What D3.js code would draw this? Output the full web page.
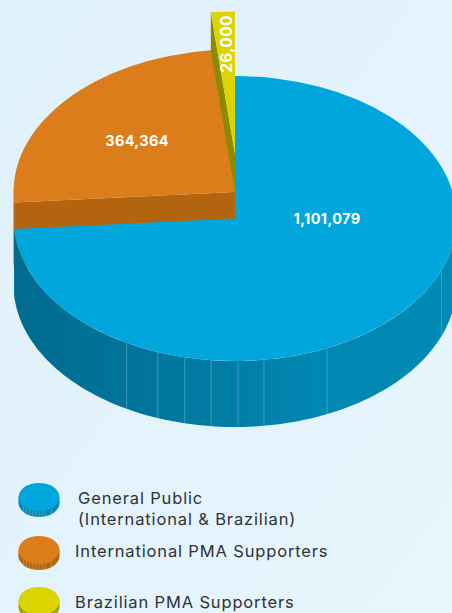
<!DOCTYPE html>
<html>
<head>
<meta charset="utf-8">
<script src="https://cdn.jsdelivr.net/npm/d3@7"></script>
<style>
html,body{margin:0;padding:0;background:#e4f3fb;overflow:hidden}
text{font-family:Inter,"Noto Sans",sans-serif}
</style>
</head>
<body>
<script>
// Audience breakdown: exploded 3D pie with a legend of small discs.
const categories = ["General Public", "International PMA Supporters", "Brazilian PMA Supporters"];
const values = [1101079, 364364, 26000];
const valueLabels = ["1,101,079", "364,364", "26,000"];
const legendLines = [["General Public", "(International & Brazilian)"], ["International PMA Supporters"], ["Brazilian PMA Supporters"]];
const topColors = ["#00a6dc", "#dc7d1b", "#dbd400"];
const sideColors = ["#007ca6", "#b2640f", "#8c8a00"];
const legendSideColors = ["#0a88b4", "#b2640f", "#a8a300"];
const seamDegrees = [111.2, 155.4, 172.5, 179.2, 186.2, 193.1, 200.4, 209.3];

const W = 452, H = 613;
const cx = 235, rx = 221.5, ry = 142.5, depth = 66;
const centerY = [218.5, 192, 154];

const svg = d3.select("body").append("svg").attr("width", W).attr("height", H).style("display", "block");
const defs = svg.append("defs");

const bg = defs.append("linearGradient").attr("id", "bg").attr("x1", 0).attr("y1", 0).attr("x2", 1).attr("y2", 1);
bg.append("stop").attr("offset", 0).attr("stop-color", "#dff1fa");
bg.append("stop").attr("offset", 1).attr("stop-color", "#e8f5fd");
svg.append("rect").attr("width", W).attr("height", H).attr("fill", "url(#bg)");

const wall = defs.append("linearGradient").attr("id", "wall").attr("gradientUnits", "userSpaceOnUse")
  .attr("x1", 15).attr("x2", 452).attr("y1", 0).attr("y2", 0);
[[0, "#006b8f"], [0.35, "#00779f"], [0.7, "#0087b2"], [1, "#008ab5"]].forEach(s =>
  wall.append("stop").attr("offset", s[0]).attr("stop-color", s[1]));

const pie = d3.pie().sort(null)(values);
const arc = d3.arc().innerRadius(0).outerRadius(rx);
const line = d3.line();
const deg = Math.PI / 180;

// Screen position of a rim point at a pie angle, for a disc centred at cy.
const rim = (a, cy) => [cx + rx * Math.sin(a), cy - ry * Math.cos(a)];

function rimBand(a0, a1, cy, h) {
  const n = 120;
  const angles = d3.range(n + 1).map(i => a0 + (a1 - a0) * i / n);
  const upper = angles.map(a => rim(a, cy));
  const lower = angles.slice().reverse().map(a => { const p = rim(a, cy); return [p[0], p[1] + h]; });
  return line(upper.concat(lower)) + "Z";
}

function radialSide(a, cy, h) {
  const p = rim(a, cy);
  return line([[cx, cy], p, [p[0], p[1] + h], [cx, cy + h]]) + "Z";
}

function topFace(d, i) {
  svg.append("path")
    .attr("d", arc(d))
    .attr("transform", `translate(${cx},${centerY[i]}) scale(1,${ry / rx})`)
    .attr("fill", topColors[i]);
}

// Back to front: yellow sliver, orange wedge, then the large blue slice.
svg.append("path").attr("d", radialSide(pie[2].startAngle, centerY[2], depth)).attr("fill", sideColors[2]);
topFace(pie[2], 2);

svg.append("path").attr("d", radialSide(pie[1].startAngle, centerY[1], depth)).attr("fill", sideColors[1]);
svg.append("path").attr("d", rimBand(pie[1].startAngle, pie[1].startAngle + 4 * deg, centerY[1], depth)).attr("fill", sideColors[1]);
topFace(pie[1], 1);

svg.append("path").attr("d", rimBand(90 * deg, pie[0].endAngle, centerY[0], depth)).attr("fill", "url(#wall)");
svg.selectAll("line.seam").data(seamDegrees).join("line").attr("class", "seam")
  .attr("x1", d => rim(d * deg, centerY[0])[0])
  .attr("x2", d => rim(d * deg, centerY[0])[0])
  .attr("y1", d => rim(d * deg, centerY[0])[1])
  .attr("y2", d => rim(d * deg, centerY[0])[1] + depth)
  .attr("stroke", "#4aa3c2").attr("stroke-width", 0.8);
topFace(pie[0], 0);

// Value labels
const valueText = (s, x, y, size, rot) => svg.append("text")
  .attr("transform", `translate(${x},${y}) rotate(${rot || 0})`)
  .attr("text-anchor", "middle").attr("dominant-baseline", "central")
  .attr("fill", "#fff").attr("font-weight", 700).attr("font-size", size)
  .attr("letter-spacing", 0.35).text(s);
valueText(valueLabels[0], 327, 218, 14.5);
valueText(valueLabels[1], 137, 140, 14.5);
valueText(valueLabels[2], 226.5, 44, 15.5, -90);

// Legend discs and captions
const legendY = [497, 550, 601];
const legendTextX = [78, 75, 75];
const legendBase = [[504, 525], [557], [608]];
const legendR = 20.5, legendRy = 14, legendDepth = 6;
const legendSeams = [-0.75, -0.6, -0.45, -0.3, -0.15, 0, 0.15, 0.3, 0.6];
categories.forEach((name, i) => {
  const g = svg.append("g").attr("class", "legend-item").attr("data-name", name);
  const x = 39, y = legendY[i];
  g.append("ellipse").attr("cx", x).attr("cy", y + legendDepth).attr("rx", legendR).attr("ry", legendRy).attr("fill", legendSideColors[i]);
  g.append("rect").attr("x", x - legendR).attr("y", y).attr("width", legendR * 2).attr("height", legendDepth).attr("fill", legendSideColors[i]);
  g.selectAll("line").data(legendSeams).join("line")
    .attr("x1", d => x + legendR * d).attr("x2", d => x + legendR * d)
    .attr("y1", y).attr("y2", d => y + legendDepth + legendRy * Math.sqrt(1 - d * d))
    .attr("stroke", "#fff").attr("stroke-opacity", 0.3).attr("stroke-width", 0.7);
  g.append("ellipse").attr("cx", x).attr("cy", y).attr("rx", legendR).attr("ry", legendRy).attr("fill", topColors[i]);
  legendLines[i].forEach((t, k) => g.append("text")
    .attr("x", legendTextX[i]).attr("y", legendBase[i][k])
    .attr("font-size", 16.5).attr("letter-spacing", 0.85).attr("fill", "#2f3236").text(t));
});
</script>
</body>
</html>
